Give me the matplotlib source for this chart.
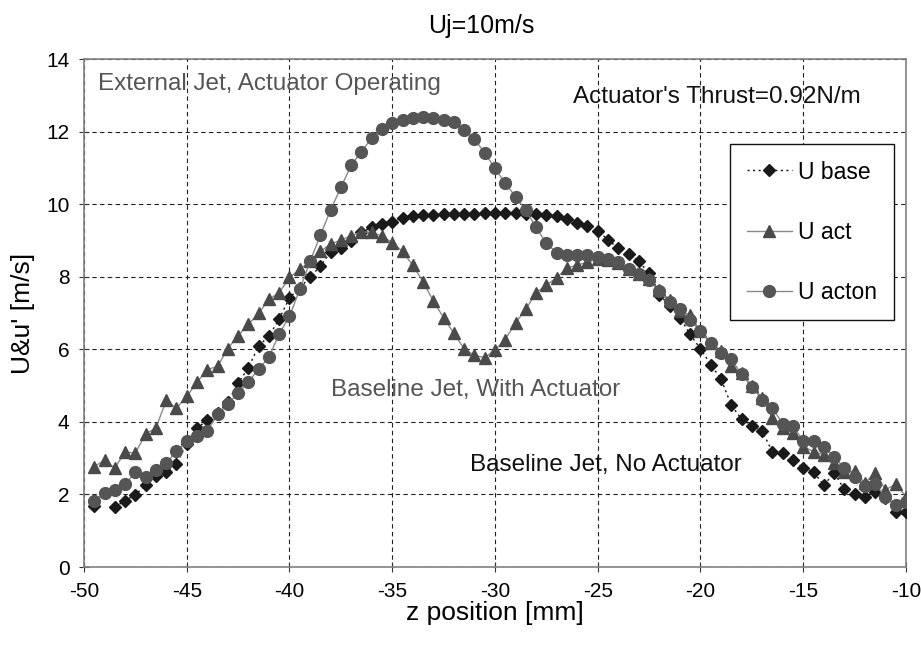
import numpy as np
import matplotlib
matplotlib.use("Agg")
import matplotlib.pyplot as plt

plt.rcParams['font.family'] = ['Liberation Sans', 'DejaVu Sans']
plt.rcParams['axes.unicode_minus'] = False

z = np.arange(-49.5, -9.99, 0.5)

u_base = [1.67, np.nan, 1.65, 1.83, 1.99, 2.27, 2.50, 2.61, 2.84, 3.40,
          3.83, 4.04, 4.25, 4.55, 5.07, 5.49, 6.10, 6.36, 6.84, 7.42,
          7.70, 7.98, 8.30, 8.67, 8.78, 8.99, 9.22, 9.36, 9.45, 9.52,
          9.63, 9.68, 9.70, 9.71, 9.72, 9.72, 9.74, 9.74, 9.75, 9.75,
          9.75, 9.75, 9.74, 9.72, 9.70, 9.66, 9.59, 9.49, 9.40, 9.26,
          9.02, 8.78, 8.63, 8.42, 8.10, 7.51, 7.20, 6.87, 6.41, 6.01,
          5.58, 5.18, 4.46, 4.07, 3.90, 3.74, 3.18, 3.14, 2.96, 2.73,
          2.63, 2.25, 2.60, 2.14, 2.00, 1.94, 2.08, 1.90, 1.53, 1.53]

u_act = [2.77, 2.94, 2.73, 3.17, 3.14, 3.67, 3.83, 4.59, 4.38, 4.70,
         5.09, 5.44, 5.53, 6.02, 6.38, 6.69, 6.99, 7.38, 7.56, 7.98,
         8.20, 8.43, 8.70, 8.90, 9.01, 9.13, 9.24, 9.22, 9.12, 8.94,
         8.70, 8.31, 7.86, 7.33, 6.87, 6.44, 6.01, 5.83, 5.77, 5.98,
         6.27, 6.73, 7.10, 7.56, 7.77, 7.97, 8.24, 8.32, 8.40, 8.50,
         8.45, 8.38, 8.22, 8.07, 7.93, 7.63, 7.35, 7.05, 6.94, 6.50,
         6.18, 5.95, 5.53, 5.35, 4.98, 4.66, 4.11, 3.83, 3.69, 3.32,
         3.18, 3.09, 2.86, 2.61, 2.65, 2.31, 2.60, 2.13, 2.28, 1.94]

u_acton = [1.83, 2.03, 2.11, 2.28, 2.61, 2.49, 2.68, 2.86, 3.19, 3.46,
           3.60, 3.74, 4.22, 4.48, 4.80, 5.10, 5.46, 5.78, 6.43, 6.91,
           7.65, 8.42, 9.14, 9.84, 10.46, 11.07, 11.45, 11.82, 12.07, 12.24,
           12.33, 12.38, 12.39, 12.37, 12.33, 12.26, 12.05, 11.80, 11.41, 10.99,
           10.57, 10.21, 9.83, 9.36, 8.92, 8.66, 8.60, 8.60, 8.60, 8.55,
           8.50, 8.41, 8.22, 8.07, 7.91, 7.61, 7.30, 7.12, 6.80, 6.50,
           6.16, 5.91, 5.73, 5.31, 4.96, 4.61, 4.39, 3.95, 3.88, 3.48,
           3.48, 3.32, 3.04, 2.73, 2.49, 2.22, 2.29, 1.92, 1.71, 1.78]

xticks = [-50, -45, -40, -35, -30, -25, -20, -15, -10]
yticks = [0, 2, 4, 6, 8, 10, 12, 14]

fig = plt.figure(figsize=(9.21, 6.45), dpi=100)
ax = fig.add_axes([0.0912, 0.1209, 0.8925, 0.7876])

ax.plot(z, u_base, linestyle=(0, (1.5, 2.5)), color='#111111', lw=1.0,
        marker='D', markersize=6.5, markerfacecolor='#1a1a1a',
        markeredgecolor='#1a1a1a', label='U base', zorder=3)
ax.plot(z, u_act, linestyle='-', color='#8a8a8a', lw=1.0,
        marker='^', markersize=8.5, markerfacecolor='#4a4a4a',
        markeredgecolor='#4a4a4a', label='U act', zorder=4)
ax.plot(z, u_acton, linestyle='-', color='#8a8a8a', lw=1.0,
        marker='o', markersize=8.5, markerfacecolor='#555555',
        markeredgecolor='#555555', label='U acton', zorder=5)

ax.set_xlim(-50, -10)
ax.set_ylim(0, 14)
ax.set_xticks(xticks)
ax.set_yticks(yticks)
ax.tick_params(direction='inout', length=7, width=0.8, labelsize=15,
               color='#333333', pad=7)
ax.grid(True, linestyle=(0, (4, 3)), color='#222222', lw=0.8)
for s in ax.spines.values():
    s.set_color('#808080')
    s.set_linewidth(1.2)

ax.set_xlabel('z position [mm]', fontsize=19, labelpad=0)
ax.set_ylabel("U&u' [m/s]", fontsize=19, labelpad=8)
fig.text(0.523, 0.96, 'Uj=10m/s', ha='center', va='center', fontsize=18)

ax.text(-49.32, 13.31, 'External Jet, Actuator Operating', fontsize=17.5,
        color='#555555', ha='left', va='center')
ax.text(-26.2, 12.95, "Actuator's Thrust=0.92N/m", fontsize=17.5,
        color='#111111', ha='left', va='center')
ax.text(-37.98, 4.89, 'Baseline Jet, With Actuator', fontsize=17.5,
        color='#555555', ha='left', va='center')
ax.text(-31.2, 2.82, 'Baseline Jet, No Actuator', fontsize=17.5,
        color='#111111', ha='left', va='center')

leg = ax.legend(loc='upper left', bbox_to_anchor=(0.786, 0.8327),
                fontsize=16.5, labelspacing=1.62, handlelength=2.0,
                handletextpad=0.25, borderpad=0.72, fancybox=False,
                edgecolor='#111111', framealpha=1, borderaxespad=0)
leg.get_frame().set_linewidth(1.0)

fig.savefig('out.png', dpi=100)
